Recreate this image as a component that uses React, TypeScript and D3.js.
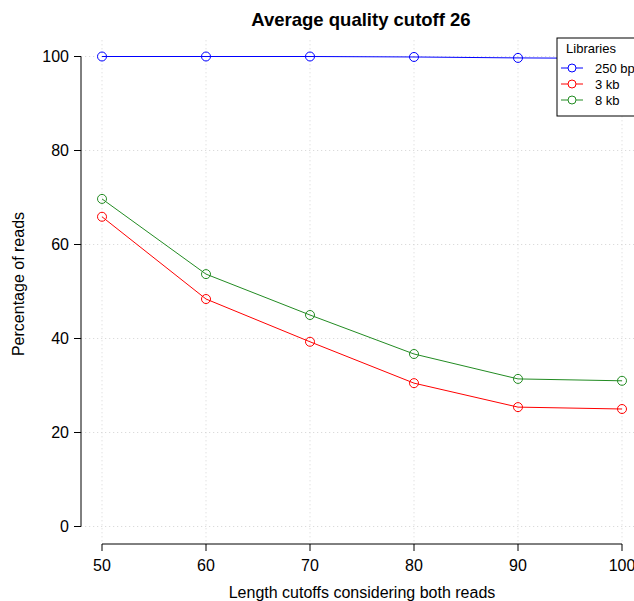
import React from 'react';
import * as d3 from 'd3';

const cutoffs = [50, 60, 70, 80, 90, 100];
const libraries = ['250 bp', '3 kb', '8 kb'];
const bp250 = [100, 100, 100, 99.9, 99.7, 99.6];
const kb3 = [65.9, 48.4, 39.3, 30.5, 25.4, 25.0];
const kb8 = [69.7, 53.7, 45.0, 36.7, 31.4, 31.0];
const yTicks = [0, 20, 40, 60, 80, 100];
const colors = ['#0000FF', '#FF0000', '#228B22'];

const W = 634;
const H = 601;
const font = 'Liberation Sans, Arial, Helvetica, sans-serif';

const App = () => {
  const series = [bp250, kb3, kb8];

  // R style: 4% padding around data range
  const x = d3.scaleLinear().domain([48, 102]).range([81.2, 642.8]);
  const y = d3.scaleLinear().domain([-4, 104]).range([545.3, 37.7]);

  const line = d3.line<number>()
    .x((_, i) => x(cutoffs[i]))
    .y(d => y(d));

  const axisY = 544;
  const axisX = 81;

  return (
    <svg width={W} height={H} style={{ position: 'absolute', left: 0, top: 0, background: '#fff' }}
      fontFamily={font}>
      <rect width={W} height={H} fill="#fff" />

      {/* grid */}
      {cutoffs.map(c => (
        <line key={'gx' + c} x1={x(c)} x2={x(c)} y1={y(-4)} y2={y(104)}
          stroke="#d3d3d3" strokeDasharray="1,3" />
      ))}
      {yTicks.map(t => (
        <line key={'gy' + t} x1={x(48)} x2={x(102)} y1={y(t)} y2={y(t)}
          stroke="#d3d3d3" strokeDasharray="1,3" />
      ))}

      {/* series */}
      {series.map((s, k) => (
        <g key={'s' + k}>
          <path d={line(s) || ''} fill="none" stroke={colors[k]} strokeWidth={1} />
          {s.map((v, i) => (
            <circle key={i} cx={x(cutoffs[i])} cy={y(v)} r={4.5} fill="none"
              stroke={colors[k]} strokeWidth={1} />
          ))}
        </g>
      ))}

      {/* y axis */}
      <line x1={axisX} x2={axisX} y1={y(0)} y2={y(100)} stroke="#000" />
      {yTicks.map(t => (
        <g key={'yt' + t}>
          <line x1={axisX - 7} x2={axisX} y1={y(t)} y2={y(t)} stroke="#000" />
          <text x={axisX - 12} y={y(t)} dy="0.35em" textAnchor="end" fontSize={16}>{t}</text>
        </g>
      ))}

      {/* x axis */}
      <line x1={x(50)} x2={x(100)} y1={axisY} y2={axisY} stroke="#000" />
      {cutoffs.map(c => (
        <g key={'xt' + c}>
          <line x1={x(c)} x2={x(c)} y1={axisY} y2={axisY + 7} stroke="#000" />
          <text x={x(c)} y={axisY + 27} textAnchor="middle" fontSize={16}>{c}</text>
        </g>
      ))}

      {/* titles */}
      <text x={361} y={26} textAnchor="middle" fontSize={18.5} fontWeight="bold">Average quality cutoff 26</text>
      <text x={362} y={598} textAnchor="middle" fontSize={16}>Length cutoffs considering both reads</text>
      <text transform="translate(24,284) rotate(-90)" textAnchor="middle" fontSize={16}>Percentage of reads</text>

      {/* legend */}
      <g>
        <rect x={557} y={38} width={90} height={78} fill="#fff" stroke="#000" />
        <text x={591} y={53} textAnchor="middle" fontSize={13}>Libraries</text>
        {libraries.map((lab, i) => {
          const ly = 68 + i * 16;
          return (
            <g key={lab}>
              <line x1={561} x2={583} y1={ly} y2={ly} stroke={colors[i]} />
              <circle cx={572} cy={ly} r={4} fill="#fff" stroke={colors[i]} />
              <text x={595} y={ly} dy="0.35em" fontSize={13}>{lab}</text>
            </g>
          );
        })}
      </g>
    </svg>
  );
};

export default App;
